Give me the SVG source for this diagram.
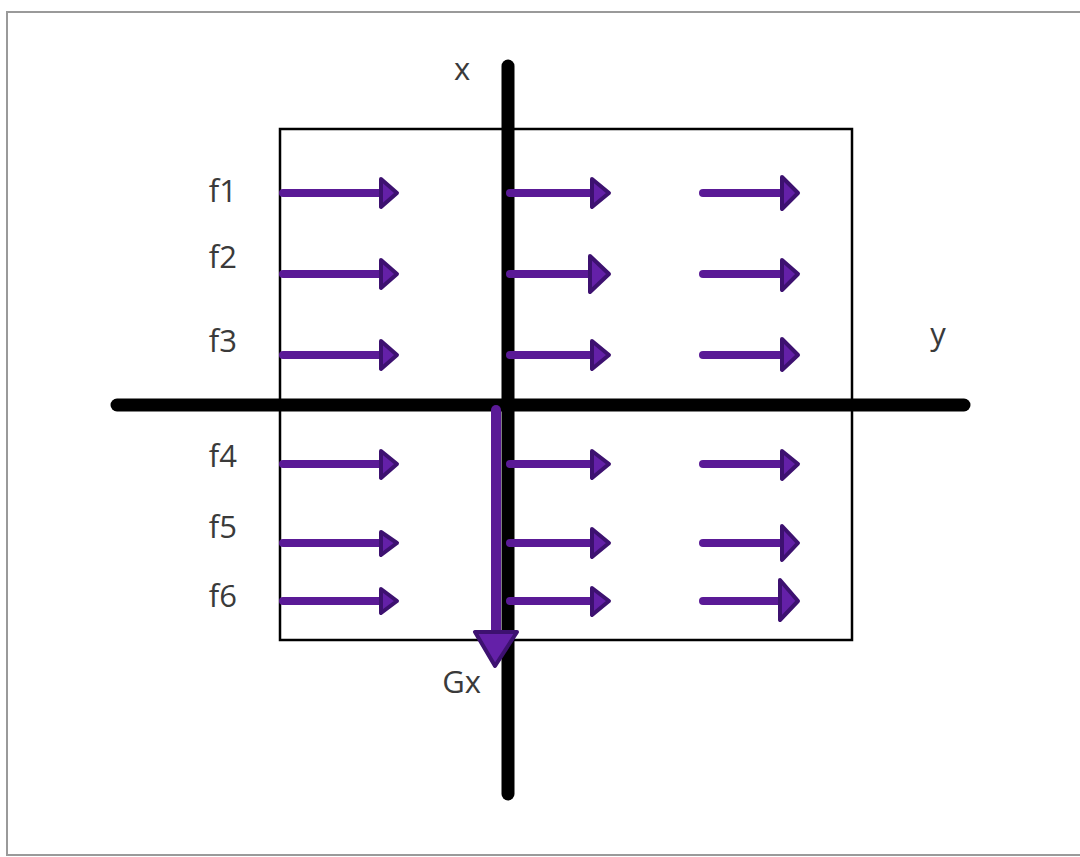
<svg xmlns="http://www.w3.org/2000/svg" width="1080" height="857" viewBox="0 0 1080 857">
<style>
.lbl{font-family:"Open Sans","Liberation Sans",sans-serif;font-size:31px;fill:#3a3a3a}
.axis{stroke:#000;stroke-width:13;stroke-linecap:round;fill:none}
.shaft{stroke:#5a1a96;stroke-width:8;stroke-linecap:round;fill:none}
.head{fill:#6420a8;stroke:#3d1170;stroke-width:4;stroke-linejoin:round}
</style>
<rect x="0" y="0" width="1080" height="857" fill="#fff"/>
<rect x="7" y="12" width="1090" height="843" fill="none" stroke="#9a9a9a" stroke-width="2"/>
<g id="box"><rect x="280" y="129" width="572" height="511" fill="none" stroke="#000" stroke-width="2.5"/></g>
<g id="axes">
<line class="axis" x1="508" y1="66" x2="508" y2="794"/>
<line class="axis" x1="117" y1="405" x2="964" y2="405"/>
</g>
<g id="labels">
<text class="lbl" x="462" y="80" text-anchor="middle">x</text>
<text class="lbl" x="938" y="345" text-anchor="middle">y</text>
<text class="lbl" x="237" y="202" text-anchor="end">f1</text>
<text class="lbl" x="237" y="268" text-anchor="end">f2</text>
<text class="lbl" x="237" y="352" text-anchor="end">f3</text>
<text class="lbl" x="237" y="467" text-anchor="end">f4</text>
<text class="lbl" x="237" y="538" text-anchor="end">f5</text>
<text class="lbl" x="237" y="607" text-anchor="end">f6</text>
<text class="lbl" x="481" y="693" text-anchor="end">Gx</text>
</g>
<g id="connectors">
<!-- column 1 -->
<line class="shaft" x1="283" y1="193" x2="384" y2="193"/><polygon class="head" points="381,179 397,193 381,207"/>
<line class="shaft" x1="283" y1="274" x2="384" y2="274"/><polygon class="head" points="381,260 397,274 381,288"/>
<line class="shaft" x1="283" y1="355" x2="384" y2="355"/><polygon class="head" points="381,341 397,355 381,369"/>
<line class="shaft" x1="283" y1="464" x2="384" y2="464"/><polygon class="head" points="381,451 397,464 381,478"/>
<line class="shaft" x1="283" y1="543" x2="384" y2="543"/><polygon class="head" points="381,532 397,543 381,555"/>
<line class="shaft" x1="283" y1="601" x2="384" y2="601"/><polygon class="head" points="381,589 397,601 381,613"/>
<!-- column 2 -->
<line class="shaft" x1="510" y1="193" x2="595" y2="193"/><polygon class="head" points="592,179 609,193 592,207"/>
<line class="shaft" x1="510" y1="274" x2="595" y2="274"/><polygon class="head" points="590,256 609,274 590,292"/>
<line class="shaft" x1="510" y1="355" x2="595" y2="355"/><polygon class="head" points="592,341 609,355 592,369"/>
<line class="shaft" x1="510" y1="464" x2="595" y2="464"/><polygon class="head" points="592,451 609,464 592,478"/>
<line class="shaft" x1="510" y1="543" x2="595" y2="543"/><polygon class="head" points="592,529 609,543 592,557"/>
<line class="shaft" x1="510" y1="601" x2="595" y2="601"/><polygon class="head" points="592,588 609,601 592,615"/>
<!-- column 3 -->
<line class="shaft" x1="703" y1="193" x2="784" y2="193"/><polygon class="head" points="782,177 798,193 782,209"/>
<line class="shaft" x1="703" y1="274" x2="784" y2="274"/><polygon class="head" points="782,260 798,274 782,290"/>
<line class="shaft" x1="703" y1="355" x2="784" y2="355"/><polygon class="head" points="782,339 798,355 782,370"/>
<line class="shaft" x1="703" y1="464" x2="784" y2="464"/><polygon class="head" points="782,451 798,464 782,479"/>
<line class="shaft" x1="703" y1="543" x2="784" y2="543"/><polygon class="head" points="782,526 798,543 782,560"/>
<line class="shaft" x1="703" y1="601" x2="784" y2="601"/><polygon class="head" points="780,580 798,601 780,620"/>
<!-- Gx -->
<line class="shaft" x1="496" y1="410" x2="496" y2="632" style="stroke-width:10"/>
<polygon class="head" points="475,632 517,632 495,666"/>
</g>
</svg>
